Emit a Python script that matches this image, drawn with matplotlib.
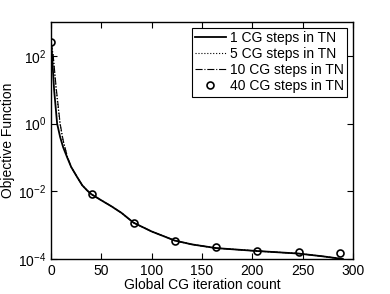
import matplotlib
matplotlib.use("Agg")
import matplotlib.pyplot as plt
from matplotlib.ticker import NullLocator

plt.rcParams['font.family'] = ['Liberation Sans', 'DejaVu Sans']
plt.rcParams['mathtext.fontset'] = 'custom'
plt.rcParams['mathtext.rm'] = 'Liberation Sans'

# solid line: 1 CG step
x1 = [0, 1, 3, 6, 9, 12, 16, 20, 26, 31, 36, 40, 50, 60, 70, 82, 100, 123, 140, 164, 205, 246, 270, 290]
y1 = [250, 100, 10, 1.0, 0.4, 0.2, 0.1, 0.052, 0.026, 0.015, 0.0105, 0.0082, 0.0054, 0.0036, 0.0023,
      0.00118, 0.00065, 0.00035, 0.00027, 0.00021, 0.000172, 0.000145, 0.00012, 0.0001]

# 5 CG steps (dotted) and 10 CG steps (dash-dot), slightly above early on
x5 = [0, 2, 5, 9, 12, 16]
y5 = [250, 100, 10, 0.9, 0.3, 0.11]
x10 = [0, 2, 5, 9, 12, 16]
y10 = [250, 110, 12, 1.0, 0.32, 0.11]

# 40 CG steps (markers only)
x40 = [0, 41, 82, 123, 164, 205, 246, 287]
y40 = [260, 0.0081, 0.00118, 0.00035, 0.00022, 0.000178, 0.000158, 0.000148]

fig = plt.figure(figsize=(3.9, 2.94), dpi=100)
ax = fig.add_axes([0.131, 0.119, 0.774, 0.806])

ax.semilogy(x1, y1, 'k-', lw=1.3, label='1 CG steps in TN')
ax.semilogy(x5 + x1[7:], y5 + y1[7:], 'k:', lw=0.8, label='5 CG steps in TN')
ax.semilogy(x10 + x1[7:], y10 + y1[7:], 'k-.', lw=0.8, label='10 CG steps in TN')
ax.semilogy(x40, y40, 'ko', mfc='none', ms=5, mew=1.2, label='40 CG steps in TN')

ax.set_xlim(0, 300)
ax.set_ylim(1e-4, 1e3)
ax.set_xticks([0, 50, 100, 150, 200, 250, 300])
ax.set_yticks([1e-4, 1e-2, 1e0, 1e2])
ax.yaxis.set_minor_locator(NullLocator())
ax.tick_params(direction='in', top=True, right=True, labelsize=10, length=4, width=0.8)
for s in ax.spines.values():
    s.set_linewidth(1.0)

ax.set_xlabel('Global CG iteration count', fontsize=10, labelpad=0)
ax.set_ylabel('Objective Function', fontsize=10, labelpad=2)

leg = ax.legend(loc='upper right', fontsize=10, fancybox=False, framealpha=1,
                edgecolor='black', borderpad=0.25, labelspacing=0.15,
                handlelength=2.2, handletextpad=0.3, borderaxespad=0.4)
leg.get_frame().set_linewidth(0.8)

fig.savefig('out.png', dpi=100)
